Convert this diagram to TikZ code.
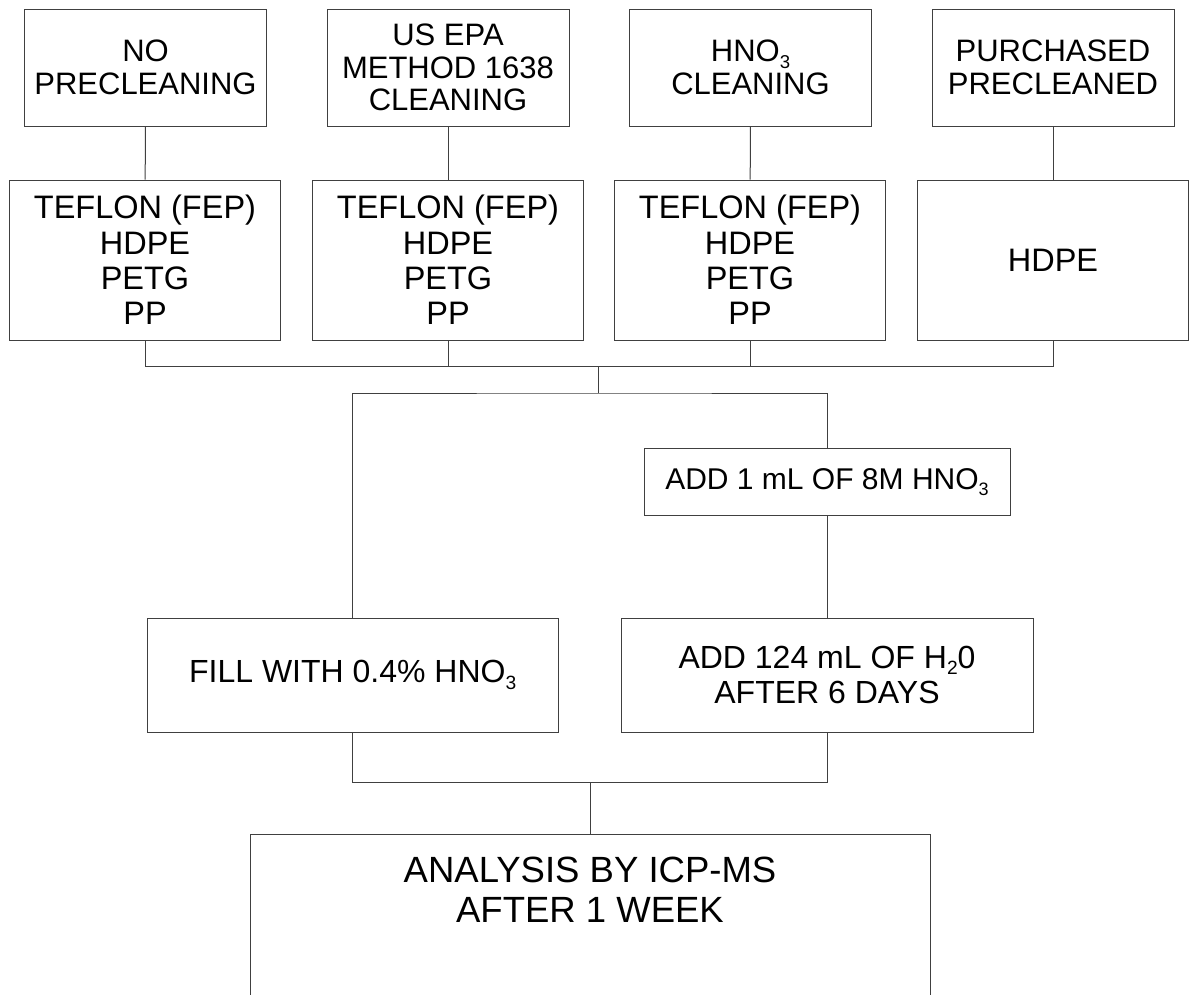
\documentclass[tikz,border=0pt]{standalone}
\usepackage{fontspec}
\setmainfont{Liberation Sans}
\newcommand{\chemsub}[1]{\raisebox{-0.2em}{\scalebox{0.6}{#1}}}

\tikzstyle{method}=[rectangle,draw=black!75,line width=1pt,minimum width=242pt,minimum height=117pt,inner sep=0pt,align=center,font=\fontsize{31}{32.5}\selectfont]
\tikzstyle{bottle}=[rectangle,draw=black!75,line width=1pt,minimum width=271pt,minimum height=160pt,inner sep=0pt,align=center,font=\fontsize{32.5}{35.3}\selectfont]
\tikzstyle{treat}=[rectangle,draw=black!75,line width=1pt,inner sep=0pt,align=center,font=\fontsize{32}{35}\selectfont]
\tikzstyle{link}=[draw=black!75,line width=1pt]

\begin{document}
\begin{tikzpicture}[x=1pt,y=-1pt]
			\useasboundingbox (0,0) rectangle (1191,994);
			\clip (0,0) rectangle (1191,994);
			%The cleaning methods
			\foreach \pos/\name/\txt in {{(145.5,67.5)/none/{NO\\PRECLEANING}},
									{(448,67.5)/epa/{US EPA\\METHOD 1638\\CLEANING}},
									{(750.5,67.5)/nitric/{HNO\chemsub{3}\\CLEANING}},
									{(1053,67.5)/bought/{PURCHASED\\PRECLEANED}}}
			\node[method] (\name) at \pos {\txt};
			%The bottle materials
			\foreach \pos/\name/\txt in {{(145,260)/noneb/{TEFLON (FEP)\\HDPE\\PETG\\PP}},
									{(448,260)/epab/{TEFLON (FEP)\\HDPE\\PETG\\PP}},
									{(750,260)/nitricb/{TEFLON (FEP)\\HDPE\\PETG\\PP}},
									{(1053,260)/boughtb/{HDPE}}}
			\node[bottle] (\name) at \pos {\txt};
			\foreach \a/\b in {none/noneb, epa/epab, nitric/nitricb, bought/boughtb}
			\draw[link] (\a) -- (\b);
			%Joining the four columns
			\draw[link] (noneb.south) -- ++(0,26) -| (boughtb.south);
			\draw[link] (epab.south) -- ++(0,26);
			\draw[link] (nitricb.south) -- ++(0,26);
			\coordinate (split) at (598.5,366);
			\coordinate (splitb) at (598.5,393);
			\coordinate (merge) at (590,782.3);
			%The two fillings
			\node[treat,minimum width=366pt,minimum height=67pt,font=\fontsize{30}{33}\selectfont] (acid) at (827,482.3) {ADD 1 mL OF 8M HNO\chemsub{3}};
			\node[treat,minimum width=411pt,minimum height=114pt] (fill) at (352.7,675) {FILL WITH 0.4\% HNO\chemsub{3}};
			\node[treat,minimum width=412pt,minimum height=114pt] (water) at (827,675) {ADD 124 mL OF H\chemsub{2}0\\AFTER 6 DAYS};
			\draw[link] (split) -- (splitb);
			\draw[link] (fill.north) |- (splitb) -| (acid.north);
			\draw[link] (acid) -- (water);
			%The analysis
			\node[treat,minimum width=680pt,minimum height=300pt,anchor=north] (analysis) at (590,834.3) {};
			\node[font=\fontsize{36.5}{40}\selectfont,align=center,inner sep=0pt] (analysistext) at (590,890) {ANALYSIS BY ICP-MS\\AFTER 1 WEEK};
			\draw[link] (fill.south) |- (merge) -| (water.south);
			\draw[link] (merge) -- (analysis.north);
		\end{tikzpicture}
\end{document}
